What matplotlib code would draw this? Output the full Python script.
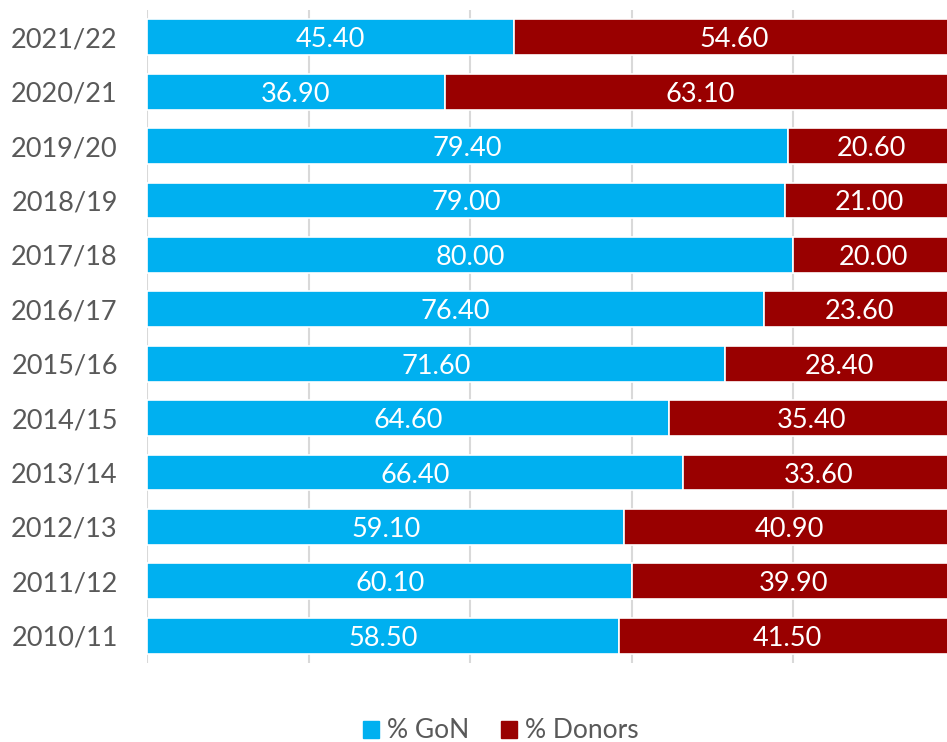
import matplotlib.pyplot as plt
from matplotlib.patches import Patch

years = ["2021/22", "2020/21", "2019/20", "2018/19", "2017/18", "2016/17",
         "2015/16", "2014/15", "2013/14", "2012/13", "2011/12", "2010/11"]
gon = [45.40, 36.90, 79.40, 79.00, 80.00, 76.40, 71.60, 64.60, 66.40, 59.10, 60.10, 58.50]
donors = [54.60, 63.10, 20.60, 21.00, 20.00, 23.60, 28.40, 35.40, 33.60, 40.90, 39.90, 41.50]

blue = "#00B0F0"
red = "#990000"
gray = "#595959"
font = "Lato"

fig = plt.figure(figsize=(9.47, 7.42), dpi=100)
ax = fig.add_axes([147/947, 1-663/742, 1-147/947, (663-10)/742])

y = list(range(len(years)))
h = 0.66
ax.barh(y, gon, height=h, color=blue, edgecolor="white", linewidth=1.2, zorder=3)
ax.barh(y, donors, left=gon, height=h, color=red, edgecolor="white", linewidth=1.2, zorder=3)

for i in y:
    ax.text(gon[i]/2, i, f"{gon[i]:.2f}", color="white", ha="center", va="center_baseline",
            fontsize=19.5, family=font, zorder=4)
    ax.text(gon[i] + donors[i]/2, i, f"{donors[i]:.2f}", color="white", ha="center",
            va="center_baseline", fontsize=19.5, family=font, zorder=4)

ax.set_ylim(len(years)-0.5, -0.5)
ax.set_xlim(0, 99.07)
ax.set_yticks(y)
ax.set_yticklabels(years, fontsize=19.5, color=gray, family=font, va="center_baseline")
ax.set_xticks([0, 20, 40, 60, 80])
ax.set_xticklabels([])
ax.tick_params(axis="both", length=0)
ax.tick_params(axis="y", pad=21)
ax.grid(axis="x", color="#D9D9D9", linewidth=1.5, zorder=0)
for s in ax.spines.values():
    s.set_visible(False)

handles = [Patch(color=blue, label="% GoN"), Patch(color=red, label="% Donors")]
leg = fig.legend(handles=handles, loc="center", bbox_to_anchor=(0.529, 1-731/742), ncol=2,
                 frameon=False, handlelength=0.6, handleheight=0.6, handletextpad=0.3,
                 columnspacing=1.2, prop={"family": font, "size": 19})
for t in leg.get_texts():
    t.set_color(gray)

fig.savefig("out.png", dpi=100)
